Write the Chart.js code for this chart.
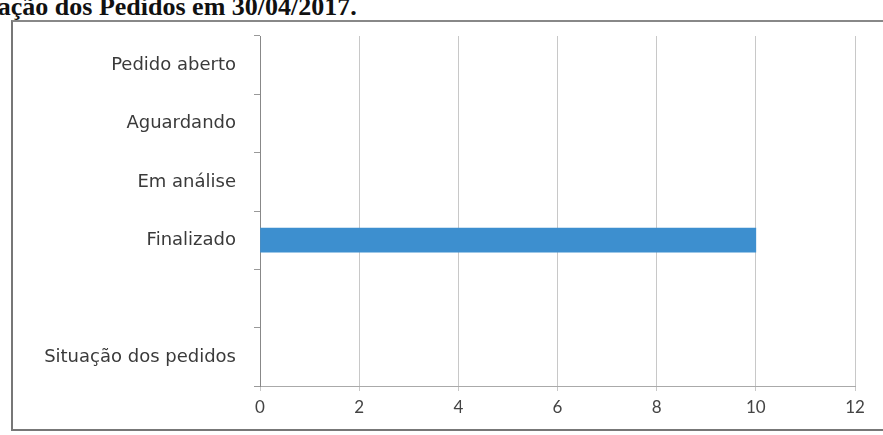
<!DOCTYPE html>
<html>
<head>
<meta charset="utf-8">
<script src="https://cdn.jsdelivr.net/npm/chart.js@4/dist/chart.umd.min.js"></script>
<style>
  html, body { margin: 0; padding: 0; background: #fff; }
  #wrap { position: relative; width: 883px; height: 435px; overflow: hidden; }
  #title {
    position: absolute; left: -47px; top: -8px;
    font: bold 26px "Liberation Serif", "Times New Roman", serif;
    color: #111; white-space: nowrap;
  }
  #box {
    position: absolute; left: 11px; top: 20px; width: 900px; height: 407px;
    border-left: 2px solid #777; border-top: 2px solid #888; border-bottom: 2px solid #777;
  }
  canvas { position: absolute; left: 0; top: 0; }
</style>
</head>
<body>
<div id="wrap">
  <div id="title">Situação dos Pedidos em 30/04/2017.</div>
  <div id="box"></div>
  <canvas id="chart" width="883" height="435"></canvas>
</div>
<script>
// categories top to bottom
const categories = ['Pedido aberto', 'Aguardando', 'Em análise', 'Finalizado', '', 'Situação dos pedidos'];
const pedidos = [null, null, null, 10, null, null];
const xMin = 0;
const xMax = 12;
const xStep = 2;

const ctx = document.getElementById('chart');

new Chart(ctx, {
  type: 'bar',
  data: {
    labels: categories,
    datasets: [{
      data: pedidos,
      backgroundColor: '#3d8fcf',
      borderWidth: 0,
      barThickness: 24
    }]
  },
  options: {
    indexAxis: 'y',
    responsive: false,
    animation: false,
    layout: { padding: { left: 0, top: 36, right: 28, bottom: 0 } },
    plugins: {
      legend: { display: false },
      tooltip: { enabled: false }
    },
    scales: {
      x: {
        min: xMin,
        max: xMax,
        ticks: {
          stepSize: xStep,
          color: '#444',
          padding: 6,
          font: { family: 'Lato', size: 17 }
        },
        grid: { color: '#c8c8c8', lineWidth: 1, tickLength: 5 },
        border: { color: '#aaa' },
        afterFit: (scale) => { scale.height = 49; }
      },
      y: {
        ticks: {
          color: '#3a3a3a',
          padding: 18,
          font: { family: 'DejaVu Sans', size: 18 }
        },
        grid: { drawOnChartArea: false, tickLength: 6, color: '#999' },
        border: { color: '#888' },
        afterFit: (scale) => { scale.width = 260; }
      }
    }
  }
});
</script>
</body>
</html>
